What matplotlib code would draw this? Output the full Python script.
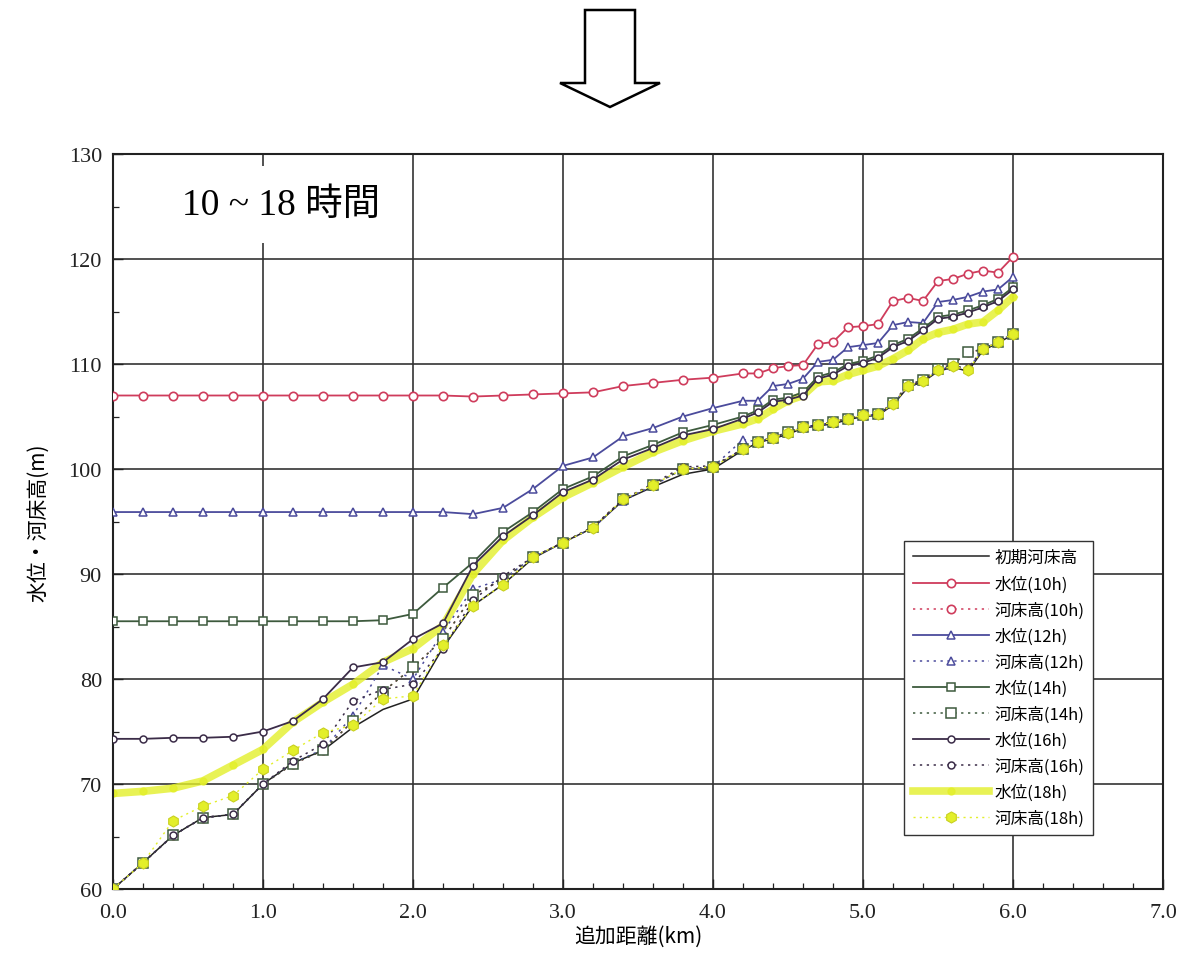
import matplotlib
matplotlib.use("Agg")
import matplotlib.pyplot as plt
from matplotlib.patches import Polygon
from matplotlib.ticker import MultipleLocator, FormatStrFormatter

plt.rcParams['font.family'] = ['Liberation Serif', 'Noto Sans CJK JP']

# distance along the river (km)
dist = [0.0, 0.2, 0.4, 0.6, 0.8, 1.0, 1.2, 1.4, 1.6, 1.8, 2.0, 2.2, 2.4, 2.6,
        2.8, 3.0, 3.2, 3.4, 3.6, 3.8, 4.0, 4.2, 4.3, 4.4, 4.5, 4.6, 4.7, 4.8,
        4.9, 5.0, 5.1, 5.2, 5.3, 5.4, 5.5, 5.6, 5.7, 5.8, 5.9, 6.0]

bed_init = [60.0, 62.5, 65.1, 66.8, 67.1, 70.0, 72.0, 73.2, 75.4, 77.1, 78.1, 83.0,
            87.0, 89.0, 91.5, 93.0, 94.4, 97.0, 98.3, 99.5, 100.0, 101.8, 102.5, 102.9,
            103.3, 103.9, 104.1, 104.3, 104.7, 105.0, 105.1, 106.1, 107.8, 108.3, 109.3,
            109.7, 109.3, 111.3, 112.0, 112.8]

wl_10h = [107.0, 107.0, 107.0, 107.0, 107.0, 107.0, 107.0, 107.0, 107.0, 107.0, 107.0,
          107.0, 106.9, 107.0, 107.1, 107.2, 107.3, 107.9, 108.2, 108.5, 108.7, 109.1,
          109.1, 109.6, 109.8, 109.9, 111.9, 112.1, 113.5, 113.6, 113.8, 116.0, 116.3,
          116.0, 117.9, 118.1, 118.6, 118.9, 118.7, 120.2]
bed_10h = [60.0, 62.5, 65.1, 66.8, 67.1, 70.0, 71.9, 73.2, 76.0, 78.8, 81.1, 83.8,
           88.0, 89.5, 91.6, 93.0, 94.5, 97.1, 98.5, 100.0, 100.2, 101.9, 102.6, 103.0,
           103.5, 104.0, 104.2, 104.5, 104.8, 105.1, 105.2, 106.3, 108.0, 108.5, 109.5,
           110.0, 111.1, 111.4, 112.1, 112.9]

wl_12h = [95.9, 95.9, 95.9, 95.9, 95.9, 95.9, 95.9, 95.9, 95.9, 95.9, 95.9, 95.9,
          95.7, 96.3, 98.1, 100.3, 101.1, 103.1, 103.9, 105.0, 105.8, 106.5, 106.5,
          107.9, 108.1, 108.6, 110.2, 110.4, 111.6, 111.8, 112.0, 113.7, 114.0, 113.9,
          115.9, 116.1, 116.4, 116.9, 117.1, 118.3]
bed_12h = [60.0, 62.5, 65.1, 66.8, 67.1, 70.0, 72.0, 73.3, 76.5, 81.3, 80.0, 84.5,
           88.6, 89.5, 91.6, 93.0, 94.4, 97.0, 98.4, 100.0, 100.2, 102.8, 102.6, 103.0,
           103.4, 104.0, 104.2, 104.4, 104.8, 105.1, 105.2, 106.2, 107.9, 108.4, 109.4,
           109.8, 109.5, 111.4, 112.1, 112.9]

wl_14h = [85.5, 85.5, 85.5, 85.5, 85.5, 85.5, 85.5, 85.5, 85.5, 85.6, 86.2, 88.7,
          91.1, 94.0, 95.9, 98.1, 99.3, 101.2, 102.3, 103.5, 104.2, 105.0, 105.6,
          106.6, 106.8, 107.3, 108.8, 109.2, 110.0, 110.3, 110.8, 111.8, 112.4, 113.4,
          114.5, 114.7, 115.1, 115.6, 116.2, 117.3]
bed_14h = [60.0, 62.5, 65.1, 66.8, 67.1, 70.0, 71.9, 73.2, 76.0, 78.8, 81.1, 83.8,
           88.0, 89.5, 91.6, 93.0, 94.5, 97.1, 98.5, 100.0, 100.2, 101.9, 102.6, 103.0,
           103.5, 104.0, 104.2, 104.5, 104.8, 105.1, 105.2, 106.3, 108.0, 108.5, 109.5,
           110.0, 111.1, 111.4, 112.1, 112.9]

wl_16h = [74.3, 74.3, 74.4, 74.4, 74.5, 75.0, 76.0, 78.1, 81.1, 81.6, 83.8, 85.3,
          90.8, 93.6, 95.6, 97.8, 99.0, 100.9, 102.0, 103.2, 103.8, 104.8, 105.4,
          106.4, 106.6, 107.0, 108.6, 109.0, 109.8, 110.1, 110.6, 111.6, 112.2, 113.2,
          114.3, 114.5, 114.9, 115.4, 116.0, 117.1]
bed_16h = [60.0, 62.5, 65.1, 66.8, 67.1, 70.0, 72.2, 73.8, 77.9, 79.0, 79.5, 82.9,
           87.5, 89.8, 91.6, 93.0, 94.4, 97.1, 98.6, 100.2, 100.3, 101.9, 102.6, 103.0,
           103.4, 104.0, 104.2, 104.4, 104.8, 105.1, 105.2, 106.2, 107.9, 108.4, 109.4,
           109.8, 109.6, 111.4, 112.1, 112.9]

wl_18h = [69.1, 69.3, 69.6, 70.3, 71.8, 73.3, 75.9, 77.8, 79.5, 81.6, 82.9, 85.1,
          90.0, 93.2, 95.4, 97.3, 98.7, 100.2, 101.6, 102.7, 103.6, 104.3, 104.8,
          105.7, 106.5, 107.0, 108.3, 108.4, 109.0, 109.4, 109.8, 110.5, 111.3, 112.4,
          113.0, 113.3, 113.8, 114.0, 115.1, 116.4]
bed_18h = [60.0, 62.5, 66.5, 67.9, 68.9, 71.4, 73.2, 74.9, 75.6, 78.1, 78.4, 83.2,
           87.0, 89.0, 91.6, 93.0, 94.4, 97.1, 98.5, 100.0, 100.2, 101.9, 102.6, 103.0,
           103.4, 104.0, 104.2, 104.45, 104.8, 105.1, 105.2, 106.2, 107.9, 108.4, 109.4,
           109.8, 109.4, 111.4, 112.1, 112.9]

W, H = 1182, 978
fig = plt.figure(figsize=(W / 100, H / 100), dpi=100)
ax = fig.add_axes([113 / W, 88 / H, 1050 / W, 735 / H])

red = '#cf3c5c'
blue = '#4b4b9c'
green = '#3d5a3d'
purple = '#3b2c48'
yellow = '#e3ef2a'
dot = (0, (1.5, 3))

ax.plot(dist, bed_init, color='#222222', lw=1.1, label='初期河床高', zorder=3)

ax.plot(dist, wl_10h, color=red, lw=1.3, marker='o', ms=6, mfc='white', mec=red,
        mew=1.2, label='水位(10h)', zorder=4)
ax.plot(dist, bed_10h, color=red, lw=1.1, ls=dot, marker='o', ms=6, mfc='white',
        mec=red, mew=1.2, label='河床高(10h)', zorder=2.5)

ax.plot(dist, wl_12h, color=blue, lw=1.3, marker='^', ms=6, mfc='white', mec=blue,
        mew=1.1, label='水位(12h)', zorder=4)
ax.plot(dist, bed_12h, color=blue, lw=1.1, ls=dot, marker='^', ms=6, mfc='white',
        mec=blue, mew=1.1, label='河床高(12h)', zorder=3)

ax.plot(dist, wl_14h, color=green, lw=1.3, marker='s', ms=6, mfc='white', mec=green,
        mew=1.1, label='水位(14h)', zorder=4)
ax.plot(dist, bed_14h, color=green, lw=1.1, ls=dot, marker='s', ms=6.5, mfc='white',
        mec=green, mew=1.1, label='河床高(14h)', zorder=3)

ax.plot(dist, wl_16h, color=purple, lw=1.3, marker='o', ms=5, mfc='white', mec=purple,
        mew=1.1, label='水位(16h)', zorder=4)
ax.plot(dist, bed_16h, color=purple, lw=1.1, ls=dot, marker='o', ms=5, mfc='white',
        mec=purple, mew=1.1, label='河床高(16h)', zorder=3)

ax.plot(dist, wl_18h, color=yellow, lw=5.5, alpha=0.8, marker='o', ms=5, mfc=yellow,
        mec=yellow, label='水位(18h)', zorder=2)
ax.plot(dist, bed_18h, color=yellow, lw=1.0, ls=dot, marker='h', ms=8, mfc=yellow,
        mec='#c8d020', mew=0.8, label='河床高(18h)', zorder=5)

ax.set_xlim(0, 7)
ax.set_ylim(60, 130)
ax.xaxis.set_major_locator(MultipleLocator(1.0))
ax.xaxis.set_minor_locator(MultipleLocator(0.2))
ax.yaxis.set_major_locator(MultipleLocator(10))
ax.yaxis.set_minor_locator(MultipleLocator(5))
ax.xaxis.set_major_formatter(FormatStrFormatter('%.1f'))
ax.tick_params(which='both', direction='in', labelsize=16, colors='#222222')
ax.tick_params(which='major', length=7, width=1.0)
ax.tick_params(which='minor', length=4, width=0.9)
ax.tick_params(axis='x', pad=10)
ax.tick_params(axis='y', pad=8)
ax.grid(True, which='major', color='#333333', lw=1.2)
for s in ax.spines.values():
    s.set_color('#222222')
    s.set_linewidth(1.5)

ax.set_xlabel('追加距離(km)', fontsize=15, family=['Noto Sans CJK JP'], labelpad=2)
ax.set_ylabel('水位・河床高(m)', fontsize=15, family=['Noto Sans CJK JP'], labelpad=14)

ax.text(0.066, 0.931, '10 ~ 18 時間', transform=ax.transAxes, fontsize=27,
        ha='left', va='center', zorder=6,
        bbox=dict(facecolor='white', edgecolor='none', pad=15))

leg = ax.legend(loc='lower right', bbox_to_anchor=(0.933, 0.073),
                prop={'family': ['Noto Sans CJK JP'], 'size': 12},
                handlelength=4.6, labelspacing=0.53, borderpad=0.5,
                handletextpad=0.3, borderaxespad=0, fancybox=False,
                framealpha=1, edgecolor='#333333')
leg.get_frame().set_linewidth(1.0)
leg.set_zorder(7)

# the down arrow above the chart
arrow_px = [(585, 11), (635, 11), (635, 84), (660, 84), (610, 108), (560, 84), (585, 84)]
arrow = Polygon([(x / W, 1 - y / H) for x, y in arrow_px], closed=True, fill=False,
                lw=1.8, ec='black', transform=fig.transFigure)
fig.add_artist(arrow)

fig.savefig('out.png', dpi=100)
